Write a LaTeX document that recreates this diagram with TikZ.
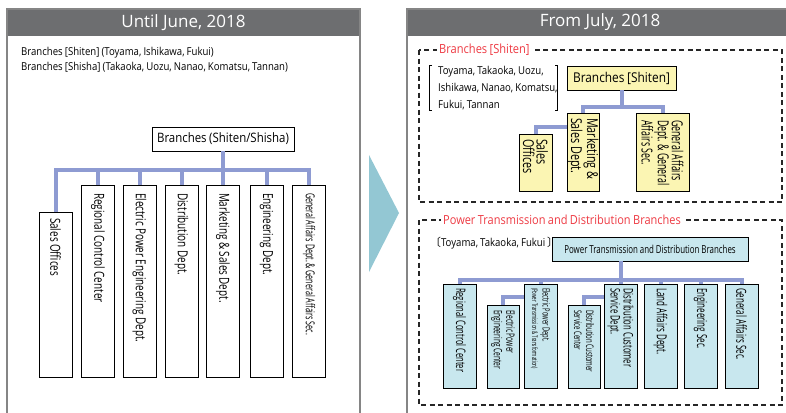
\documentclass[tikz,border=0pt]{standalone}
\usepackage{fontspec}
\setmainfont{Open Sans}
\newfontfamily\cond{Open Sans}[FakeStretch=0.88,WordSpace=0.85]
\newfontfamily\condx{Open Sans}[FakeStretch=0.72,WordSpace=0.9]
\newfontfamily\condxx{Open Sans}[FakeStretch=0.58,WordSpace=0.95]
\newfontfamily\cjkf{Noto Sans CJK JP}
\newcommand\fsz[2]{\fontsize{#1}{#2}\selectfont}
\newcommand\oneln[1]{\mbox{#1}}
\definecolor{headgray}{HTML}{6D6E70}
\definecolor{framegray}{HTML}{858585}
\definecolor{connblue}{HTML}{8E9BD2}
\definecolor{boxyellow}{HTML}{FBF5B3}
\definecolor{boxcyan}{HTML}{C8E7EE}
\definecolor{arrowblue}{HTML}{93C7D3}
\definecolor{labred}{HTML}{EE3A43}
\begin{document}
\frenchspacing
\begin{tikzpicture}[x=1pt,y=-1pt,
  frame/.style={draw=framegray, line width=2pt},
  title/.style={text=white, font=\fsz{17}{18}},
  conn/.style={draw=connblue, line width=4pt},
  hbox/.style={draw=black, line width=0.8pt, inner sep=0pt, font=\cond},
  vb/.style={draw=black, line width=0.8pt, rotate=-90, align=flush left, inner ysep=0pt},
  dashbox/.style={draw=black!85, line width=1.2pt, dash pattern=on 5pt off 3.5pt},
  redlab/.style={fill=white, text=labred, inner xsep=2pt, inner ysep=1pt, anchor=west},
  plain/.style={anchor=west, inner sep=0pt, align=left}
]
\useasboundingbox (0,0) rectangle (786,412);
% ---------- left panel ----------
\fill[headgray] (7,9) rectangle (360,36);
\draw[frame] (7,9) rectangle (360,440);
\node[title] (lt) at (183.5,22.5) {Until June, 2018};
\node[plain, font=\cond\fsz{10.9}{15}] (lintro) at (21,59.5) {Branches [Shiten] (Toyama, Ishikawa, Fukui)\\Branches [Shisha] (Takaoka, Uozu, Nanao, Komatsu, Tannan)};

\node[hbox, fill=white, minimum width=142pt, minimum height=24pt, font=\cond\fsz{13}{14}] (lp) at (223,139) {Branches (Shiten/Shisha)};
\begin{scope}[every node/.append style={fill=white, font=\condx\fsz{13.8}{14}}]
\node[vb, inner xsep=6pt, text width=153pt, minimum height=33pt] (l1) at (55.5,294.5) {\oneln{Sales Offices}};
\node[vb, inner xsep=8pt, text width=176pt, minimum height=33pt] (l2) at (98,281) {\oneln{Regional Control Center}};
\node[vb, inner xsep=8pt, text width=176pt, minimum height=33pt] (l3) at (139.5,281) {\oneln{Electric Power Engineering Dept.}};
\node[vb, inner xsep=8pt, text width=176pt, minimum height=33pt] (l4) at (181.5,281) {\oneln{Distribution Dept.}};
\node[vb, inner xsep=8pt, text width=176pt, minimum height=33pt] (l5) at (223,281) {\oneln{Marketing \& Sales Dept.}};
\node[vb, inner xsep=8pt, text width=176pt, minimum height=33pt] (l6) at (266.5,281) {\oneln{Engineering Dept.}};
\node[vb, inner xsep=8pt, text width=176pt, minimum height=33pt, font=\condxx\fsz{12.3}{13}] (l7) at (309,281) {\oneln{General Affairs Dept. \& General Affairs Sec.}};
\end{scope}
\foreach \c in {l1,l2,l3,l4,l5,l6,l7}
  \draw[conn] (lp.south) -- ++(0,19) -| (\c.west);

% ---------- arrow ----------
\fill[arrowblue] (369,155) -- (399,213) -- (369,272) -- cycle;

% ---------- right panel ----------
\fill[headgray] (407,9) rectangle (800,36);
\draw[frame] (407,9) rectangle (800,440);
\node[title] (rt) at (600,22.5) {From July, 2018};

% top dashed section
\draw[dashbox] (419,50) rectangle (782,202);
\node[redlab, font=\cond\fsz{12.6}{14}] (rl1) at (437,50) {Branches [Shiten]};
\node[plain, font=\cond\fsz{10.9}{17}] (bt) at (438,88) {Toyama, Takaoka, Uozu,\\Ishikawa, Nanao, Komatsu,\\Fukui, Tannan};
\draw[line width=0.7pt] (432,65) -- (429.5,65) -- (429.5,110) -- (432,110);
\draw[line width=0.7pt] (555,65) -- (557.5,65) -- (557.5,110) -- (555,110);

\node[hbox, fill=boxyellow, minimum width=109pt, minimum height=24pt, font=\cond\fsz{13.5}{15}] (rp) at (621.5,78) {Branches [Shiten]};
\begin{scope}[every node/.append style={fill=boxyellow}]
\node[vb, inner xsep=5pt, text width=47pt, minimum height=33pt, font=\condx\fsz{15}{13.5}] (r1) at (535.5,162.5) {\oneln{Sales}\\\oneln{Offices}};
\node[vb, inner xsep=5pt, text width=68pt, minimum height=32pt, font=\condx\fsz{15}{13.5}] (r2) at (583,152) {\oneln{Marketing \&}\\\oneln{Sales Dept.}};
\node[vb, inner xsep=7pt, text width=64pt, minimum height=53pt, font=\condxx\fsz{15.2}{14}] (r3) at (662.5,152) {\oneln{General Affairs}\\\oneln{Dept. \& General}\\\oneln{Affairs Sec.}};
\end{scope}
\draw[conn] (rp.south) -- ++(0,17) -| (r2.west);
\draw[conn] (rp.south) -- ++(0,17) -| (r3.west);
\draw[conn] ([yshift=-14pt]r2.south west) -| (r1.west);

% bottom dashed section
\draw[dashbox] (419,220) rectangle (782,405);
\node[redlab, font=\cond\fsz{12.5}{14}] (rl2) at (441,220) {Power Transmission and Distribution Branches};
\node[plain, font=\cond\fsz{10.9}{12}] (bt2) at (430,243) {{\cjkf 〔}Toyama, Takaoka, Fukui\,{\cjkf 〕}};

\node[hbox, fill=boxcyan, minimum width=196pt, minimum height=24pt, font=\condx\fsz{11}{12}] (bp) at (650,249) {Power Transmission and Distribution Branches};
\begin{scope}[every node/.append style={fill=boxcyan}]
\node[vb, inner xsep=4pt, text width=96pt, minimum height=33pt, font=\condxx\fsz{13.1}{13}] (b1) at (459.5,336) {\oneln{Regional Control Center}};
\node[vb, inner xsep=5pt, text width=73pt, minimum height=32pt, font=\condxx\fsz{11.5}{12.5}] (b2) at (503,346.5) {\oneln{Electric Power}\\\oneln{Engineering Center}};
\node[vb, inner xsep=4pt, text width=96pt, minimum height=33pt, font=\condxx\fsz{10}{10.5}] (b3) at (540.5,336) {\oneln{Electric Power Dept.}\\\oneln{\fsz{7.6}{8}(Power Transmission \& Transformation)}};
\node[vb, inner xsep=5pt, text width=73pt, minimum height=32pt, font=\condxx\fsz{10.4}{12}] (b4) at (584,346.5) {\oneln{Distribution Customer}\\\oneln{Service Center}};
\node[vb, inner xsep=4pt, text width=96pt, minimum height=33pt, font=\condxx\fsz{13.2}{13}] (b5) at (620.5,336) {\oneln{Distribution Customer}\\\oneln{Service Dept.}};
\node[vb, inner xsep=4pt, text width=96pt, minimum height=33pt, font=\condxx\fsz{13.8}{13}] (b6) at (660.5,336) {\oneln{Land Affairs Dept.}};
\node[vb, inner xsep=4pt, text width=96pt, minimum height=33pt, font=\condxx\fsz{13.8}{13}] (b7) at (700.5,336) {\oneln{Engineering Sec.}};
\node[vb, inner xsep=4pt, text width=96pt, minimum height=33pt, font=\condxx\fsz{13.8}{13}] (b8) at (741.5,336) {\oneln{General Affairs Sec.}};
\end{scope}
\foreach \c in {b1,b3,b5,b6,b7,b8}
  \draw[conn] (b5.west |- bp.south) -- ++(0,19) -| (\c.west);
\draw[conn] ([yshift=-13pt]b3.south west) -| (b2.west);
\draw[conn] ([yshift=-13pt]b5.south west) -| (b4.west);
\end{tikzpicture}
\end{document}
